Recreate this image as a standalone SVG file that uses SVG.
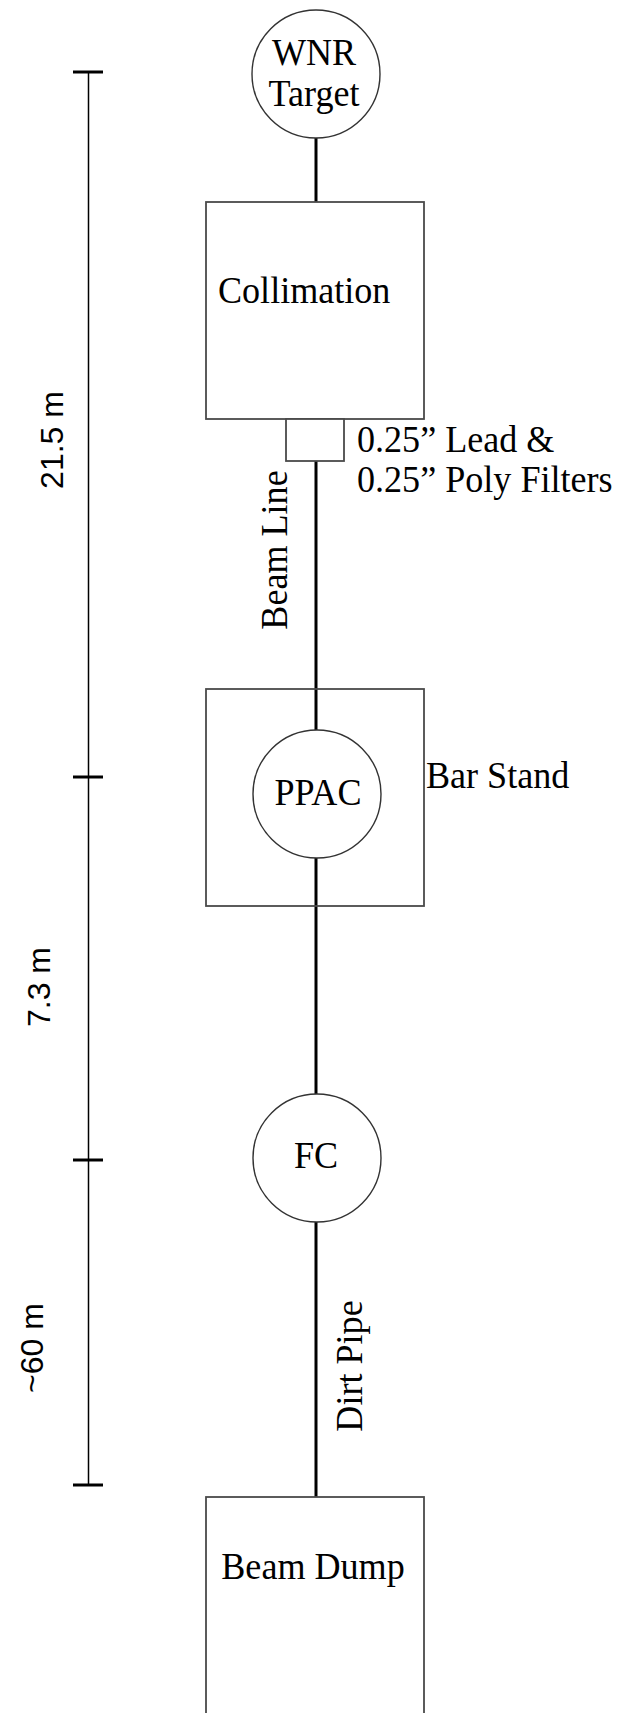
<svg xmlns="http://www.w3.org/2000/svg" width="620" height="1713" viewBox="0 0 620 1713">
<style>
.bg{fill:#ffffff}
.box{fill:#ffffff;stroke:#4a4a4a;stroke-width:1.8}
.open{fill:none}
.circ{fill:#ffffff;stroke:#333333;stroke-width:1.4}
.beam{stroke:#000000;stroke-width:3;fill:none}
.scale{stroke:#000000;stroke-width:1.5;fill:none}
.tick{stroke:#000000;stroke-width:3;fill:none}
.lbl{font-family:"Liberation Serif","Times New Roman",serif;font-size:38px;fill:#000000}
.dim{font-family:"Liberation Sans",Arial,sans-serif;font-size:32px;fill:#000000}
.mid{text-anchor:middle}
</style>
<rect class="bg" x="0" y="0" width="620" height="1713"/>

<g id="scale-bar">
  <line class="scale" x1="88.5" y1="72" x2="88.5" y2="1485"/>
  <line class="tick" x1="73" y1="72" x2="103" y2="72"/>
  <line class="tick" x1="73" y1="777" x2="103" y2="777"/>
  <line class="tick" x1="73" y1="1160" x2="103" y2="1160"/>
  <line class="tick" x1="73" y1="1485" x2="103" y2="1485"/>
  <text class="dim mid" transform="translate(63,440) rotate(-90)">21.5 m</text>
  <text class="dim mid" transform="translate(50,987) rotate(-90)">7.3 m</text>
  <text class="dim mid" transform="translate(43,1348) rotate(-90)">~60 m</text>
</g>

<g id="connectors">
  <line class="beam" x1="316" y1="138" x2="316" y2="202"/>
  <line class="beam" x1="316" y1="461" x2="316" y2="730"/>
  <line class="beam" x1="316" y1="858" x2="316" y2="1094"/>
  <line class="beam" x1="316" y1="1222" x2="316" y2="1497"/>
  <text class="lbl mid" transform="translate(287,550) rotate(-90) scale(0.95,1)">Beam Line</text>
  <text class="lbl mid" transform="translate(362,1366) rotate(-90) scale(0.95,1)">Dirt Pipe</text>
</g>

<g id="wnr-target">
  <circle class="circ" cx="316" cy="74" r="64"/>
  <text class="lbl mid" transform="translate(314,65) scale(0.95,1)">WNR</text>
  <text class="lbl mid" transform="translate(314,106) scale(0.95,1)">Target</text>
</g>

<g id="collimation">
  <rect class="box" x="206" y="202" width="218" height="217"/>
  <text class="lbl" transform="translate(218,303) scale(0.95,1)">Collimation</text>
</g>

<g id="filters">
  <rect class="box" x="286" y="419" width="58" height="42"/>
  <text class="lbl" transform="translate(357,452) scale(0.95,1)">0.25” Lead &amp;</text>
  <text class="lbl" transform="translate(357,492) scale(0.95,1)">0.25” Poly Filters</text>
</g>

<g id="bar-stand">
  <rect class="box open" x="206" y="689" width="218" height="217"/>
  <text class="lbl" transform="translate(426,788) scale(0.95,1)">Bar Stand</text>
</g>

<g id="ppac">
  <circle class="circ" cx="317" cy="794" r="64"/>
  <text class="lbl mid" transform="translate(318,805) scale(0.95,1)">PPAC</text>
</g>

<g id="fc">
  <circle class="circ" cx="317" cy="1158" r="64"/>
  <text class="lbl mid" transform="translate(316,1168) scale(0.95,1)">FC</text>
</g>

<g id="beam-dump">
  <rect class="box" x="206" y="1497" width="218" height="220"/>
  <text class="lbl mid" transform="translate(313,1579) scale(0.95,1)">Beam Dump</text>
</g>
</svg>
